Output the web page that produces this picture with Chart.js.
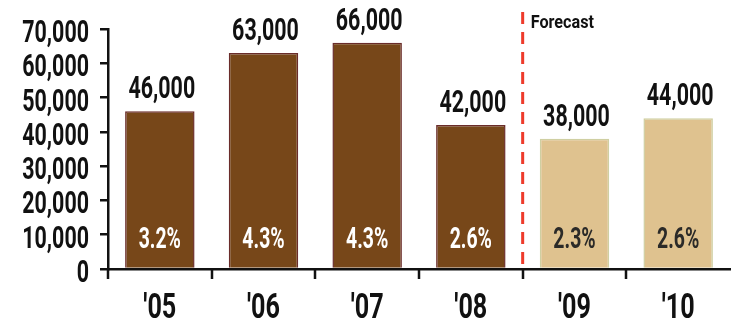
<!DOCTYPE html>
<html>
<head>
<meta charset="utf-8">
<script src="https://cdn.jsdelivr.net/npm/chart.js@4"></script>
<style>
  html, body { margin: 0; padding: 0; background: #fff; }
  #wrap { width: 737px; height: 324px; }
</style>
</head>
<body>
<div id="wrap"><canvas id="salesChart" width="737" height="324"></canvas></div>
<script>
const years = ["'05", "'06", "'07", "'08", "'09", "'10"];
const units = [46000, 63000, 66000, 42000, 38000, 44000];
const growth = [3.2, 4.3, 4.3, 2.6, 2.3, 2.6];
const yTicks = [0, 10000, 20000, 30000, 40000, 50000, 60000, 70000];
const firstForecast = 4;

const FONT = "Roboto, 'Liberation Sans', sans-serif";
const SQUEEZE = 0.67;   // no condensed face installed, so narrow the glyphs by hand
const actualFill = '#774719', actualEdge = '#6a2c2a';
const forecastFill = '#dfc28f', forecastEdge = '#cfcfa2';

const fmt = v => v.toLocaleString('en-US');

function narrowText(ctx, text, x, y, size, align, color, squeeze = SQUEEZE) {
    ctx.save();
    ctx.translate(x, y);
    ctx.scale(squeeze, 1);
    ctx.font = 'bold ' + size + 'px ' + FONT;
    ctx.textAlign = align;
    ctx.textBaseline = 'alphabetic';
    ctx.fillStyle = color;
    ctx.fillText(text, 0, 0);
    ctx.restore();
}

// axis labels and category tick marks, value above each bar, growth rate inside, forecast divider
const barLabels = {
    id: 'barLabels',
    afterDraw(chart) {
        const ctx = chart.ctx;
        const xs = chart.scales.x, ys = chart.scales.y;
        const meta = chart.getDatasetMeta(0);
        const y0 = ys.getPixelForValue(0);
        const half = (xs.getPixelForValue(1) - xs.getPixelForValue(0)) / 2;

        // tick marks on the left edge of every category, none after the last one
        ctx.save();
        ctx.strokeStyle = '#111';
        ctx.lineWidth = 2.5;
        ctx.beginPath();
        years.forEach((lab, i) => {
            const tx = Math.round(xs.getPixelForValue(i) - half);
            ctx.moveTo(tx, y0);
            ctx.lineTo(tx, y0 + 10);
        });
        ctx.stroke();
        ctx.restore();

        yTicks.forEach(v => {
            narrowText(ctx, fmt(v), ys.right - 19, ys.getPixelForValue(v) + 13, 32, 'right', '#111');
        });
        years.forEach((lab, i) => {
            narrowText(ctx, lab, xs.getPixelForValue(i), 318, 35, 'center', '#111', 0.72);
        });

        meta.data.forEach((bar, i) => {
            narrowText(ctx, fmt(units[i]), bar.x + 2, bar.y - 13, 32, 'center', '#111');
            narrowText(ctx, growth[i].toFixed(1) + '%', bar.x, y0 - 21, 29, 'center',
                i >= firstForecast ? '#2b2a28' : '#fff');
        });

        // dashed line between actual and forecast years
        const x = (meta.data[firstForecast - 1].x + meta.data[firstForecast].x) / 2;
        ctx.save();
        ctx.strokeStyle = '#ee3b2b';
        ctx.lineWidth = 3;
        ctx.setLineDash([12, 8]);
        ctx.beginPath();
        ctx.moveTo(x, 12);
        ctx.lineTo(x, y0);
        ctx.stroke();
        ctx.restore();
        narrowText(ctx, 'Forecast', x + 8, 28, 18, 'left', '#111', 0.9);
    }
};

new Chart(document.getElementById('salesChart'), {
    type: 'bar',
    data: {
        labels: years,
        datasets: [{
            data: units,
            backgroundColor: units.map((v, i) => i >= firstForecast ? forecastFill : actualFill),
            borderColor: units.map((v, i) => i >= firstForecast ? forecastEdge : actualEdge),
            borderWidth: 1.5,
            barPercentage: 0.67,
            categoryPercentage: 1
        }]
    },
    options: {
        responsive: false,
        animation: false,
        layout: { padding: { top: 29, right: 7, left: 0, bottom: 0 } },
        plugins: { legend: { display: false }, tooltip: { enabled: false } },
        scales: {
            x: {
                afterFit: s => { s.height = 55; },
                grid: { display: false },
                border: { display: true, color: '#111', width: 2.5 },
                ticks: { display: false }
            },
            y: {
                min: 0,
                max: 70000,
                afterBuildTicks: s => { s.ticks = yTicks.map(v => ({ value: v })); },
                afterFit: s => { s.width = 108; },
                grid: { drawOnChartArea: false, color: '#111', lineWidth: 2.5, tickLength: 8 },
                border: { color: '#111', width: 2.5 },
                ticks: { display: false }
            }
        }
    },
    plugins: [barLabels]
});
</script>
</body>
</html>
